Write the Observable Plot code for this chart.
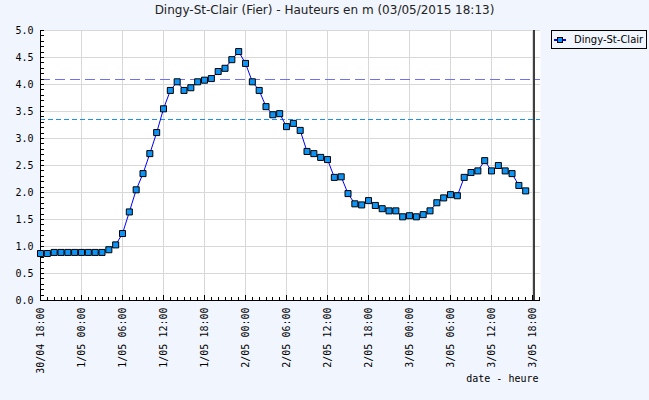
<!DOCTYPE html>
<html>
<head>
<meta charset="utf-8">
<script src="https://cdn.jsdelivr.net/npm/d3@7"></script>
<script src="https://cdn.jsdelivr.net/npm/@observablehq/plot@0.6"></script>
<style>
  html, body { margin: 0; padding: 0; background: #f1f5fe; }
  #wrap { position: relative; width: 649px; height: 400px; background: #f1f5fe; overflow: hidden; }
  #title { position: absolute; left: 0; top: 3px; width: 649px; text-align: center;
           font: 12px "DejaVu Sans", sans-serif; color: #222; }
  #legend { position: absolute; left: 551px; top: 30px; width: 96px; height: 19px; box-sizing: border-box;
            border: 1px solid #000; font: 10px "DejaVu Sans", sans-serif; color: #000;
            display: flex; align-items: center; }
  #legend svg { margin-left: 2px; margin-right: 8px; }
  #plot { position: absolute; left: 0; top: 0; }
</style>
</head>
<body>
<div id="wrap">
  <div id="plot"></div>
  <div id="title">Dingy-St-Clair (Fier) - Hauteurs en m (03/05/2015 18:13)</div>
  <div id="legend"><svg width="12" height="8"><line x1="0" y1="4" x2="12" y2="4" stroke="#0000ff" stroke-width="2"/><rect x="3.5" y="1.5" width="5" height="5" fill="#0d94f5" stroke="#000" stroke-width="1"/></svg><span>Dingy-St-Clair</span></div>
</div>
<script>
// Hourly water heights (m), starting 30/04/2015 18:00
const startTime = "2015-04-30T18:00:00Z";
const heights = [
  0.87, 0.87, 0.89, 0.89, 0.89, 0.89, 0.89, 0.89, 0.89, 0.89,
  0.94, 1.03, 1.24, 1.64, 2.05, 2.35, 2.72, 3.11, 3.55, 3.89,
  4.05, 3.89, 3.94, 4.05, 4.08, 4.11, 4.24, 4.30, 4.46, 4.61,
  4.39, 4.05, 3.89, 3.59, 3.44, 3.46, 3.22, 3.28, 3.15, 2.76,
  2.72, 2.65, 2.61, 2.28, 2.29, 1.98, 1.79, 1.77, 1.85, 1.76,
  1.70, 1.66, 1.66, 1.55, 1.57, 1.55, 1.59, 1.66, 1.81, 1.90,
  1.96, 1.94, 2.28, 2.37, 2.40, 2.59, 2.40, 2.50, 2.40, 2.35,
  2.13, 2.03
];
const thresholds = [4.09, 3.35];
const thresholdColors = ["#7070f5", "#1890f0"];
const thresholdDashes = ["10,5", "5,3"];
const xDomain = ["2015-04-30T18:00:00Z", "2015-05-03T19:10:00Z"];
const nowTime = "2015-05-03T18:13:00Z";
const yTicks = [0, 0.5, 1, 1.5, 2, 2.5, 3, 3.5, 4, 4.5, 5];
const xLabel = "date - heure";

const t0 = new Date(startTime);
const data = heights.map((h, i) => ({ t: d3.utcHour.offset(t0, i), h }));
const xd = xDomain.map(s => new Date(s));
const majorX = d3.utcHour.every(6).range(xd[0], xd[1]);
const minorX = d3.utcHour.range(xd[0], xd[1]);
const minorY = d3.range(0, 51).map(v => v / 10);
const fmt = d3.utcFormat("%-d/%m %H:%M");
const mono = "'DejaVu Sans Mono', monospace";
const blank = () => "";
const crisp = { shapeRendering: "crispEdges" };

const chart = Plot.plot({
  width: 649,
  height: 400,
  marginLeft: 40,
  marginRight: 109,
  marginTop: 30,
  marginBottom: 100,
  style: { background: "transparent", fontFamily: mono, fontSize: "10px", color: "#000" },
  x: { type: "utc", domain: xd, label: null },
  y: { domain: [0, 5], label: null },
  marks: [
    Plot.frame({ fill: "white", stroke: null }),
    Plot.gridX(majorX, { stroke: "#d8d8d8", strokeOpacity: 1, ...crisp }),
    Plot.gridY(yTicks, { stroke: "#d8d8d8", strokeOpacity: 1, ...crisp }),
    Plot.ruleY([thresholds[0]], { stroke: thresholdColors[0], strokeDasharray: thresholdDashes[0], ...crisp }),
    Plot.ruleY([thresholds[1]], { stroke: thresholdColors[1], strokeDasharray: thresholdDashes[1], ...crisp }),
    Plot.axisX(minorX, { tickSize: -3, tickFormat: blank, label: null, ...crisp }),
    Plot.axisX(majorX, { tickSize: -5, tickPadding: 12, tickRotate: -90, tickFormat: fmt, fontFamily: mono, fontSize: 10, label: null, ...crisp }),
    Plot.axisY(minorY, { tickSize: -4, tickFormat: blank, label: null, ...crisp }),
    Plot.axisY(yTicks, { tickSize: 0, tickPadding: 7, tickFormat: d3.format(".1f"), fontFamily: mono, fontSize: 10, label: null }),
    Plot.ruleY([0], { stroke: "#000", ...crisp }),
    Plot.ruleX([xd[0]], { stroke: "#000", ...crisp }),
    Plot.ruleX([new Date(nowTime)], { stroke: "#000", strokeWidth: 1.5 }),
    Plot.line(data, { x: "t", y: "h", stroke: "#0000ff", strokeWidth: 1 }),
    Plot.dot(data, { x: "t", y: "h", symbol: "square", r: 3.4, fill: "#0d94f5", stroke: "#000", strokeWidth: 1 }),
    Plot.text([xLabel], { frameAnchor: "bottom-right", dy: 81, dx: -2, text: d => d, fontFamily: mono, fontSize: 10, textAnchor: "end" })
  ]
});
document.getElementById("plot").appendChild(chart);
</script>
</body>
</html>
